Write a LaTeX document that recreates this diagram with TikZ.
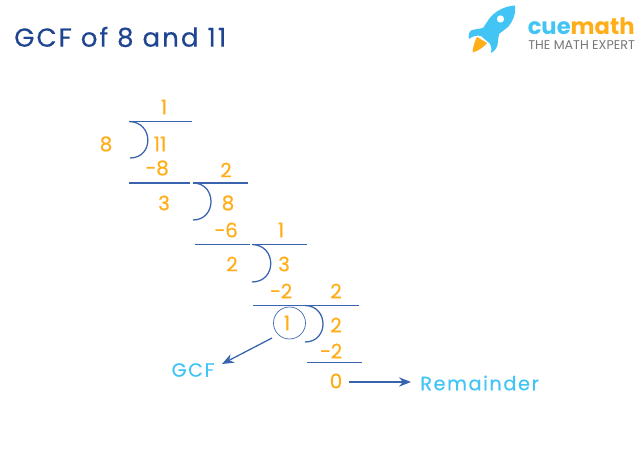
\documentclass[tikz,border=0pt]{standalone}
\usepackage{fontspec}
\setmainfont{Poppins}[FakeBold=0.5]
\newfontfamily\spaced[LetterSpace=8,FakeBold=0.4]{Poppins}
\newfontfamily\plainf{Poppins}
\usetikzlibrary{arrows.meta}
\definecolor{navy}{HTML}{1F4590}
\definecolor{linec}{HTML}{3A63AE}
\definecolor{org}{HTML}{FFAE1A}
\definecolor{sky}{HTML}{42C5F5}
\definecolor{grayt}{HTML}{777777}
\tikzset{
 num/.style={text=org,font=\fontsize{15}{15}\selectfont,inner sep=0pt},
 lab/.style={text=sky,font=\spaced\fontsize{14.5}{15}\selectfont,inner sep=0pt},
 rule/.style={draw=linec,line width=0.95pt},
 bow/.style={draw=linec,line width=0.95pt},
 arr/.style={draw=linec,line width=0.95pt,-{Stealth[length=9pt,width=7pt]}},
}
\begin{document}
\begin{tikzpicture}[x=0.75pt,y=-0.75pt]
\useasboundingbox (0,0) rectangle (643,473);
\node[text=navy,font=\spaced\fontsize{19.5}{20}\selectfont,anchor=west,inner sep=0pt] (title) at (14,37) {GCF of 8 and 11};
% rocket
\fill[sky] (515,5.5) .. controls (505,6) and (495,11) .. (489,19) -- (483,28) -- (472,30) .. controls (469,31) and (468,36) .. (469,39) .. controls (473,36) and (477,35) .. (481,36) -- (488,42) .. controls (491,44) and (492,48) .. (491,53) .. controls (495,51) and (498,47) .. (498,41) -- (499,34) -- (508,27) .. controls (514,20) and (516,12) .. (515,5.5) -- cycle;
\fill[white] (500.5,19) circle (3.6);
\fill[org] (472.5,52.5) .. controls (473,46) and (475,41) .. (477,37) -- (487,43) .. controls (483,48) and (478,51) .. (472.5,52.5) -- cycle;
\node[anchor=west,inner sep=0pt,font=\plainf\fontsize{17}{20}\selectfont\bfseries] (logo) at (527.5,26) {\textcolor{sky}{cue}\textcolor{org}{math}};
\node[anchor=west,inner sep=0pt,text=grayt,font=\plainf\fontsize{9.5}{10}\selectfont] (tag) at (528,45) {THE MATH EXPERT};
% numbers
\node[num] (q1) at (164,107) {1};
\node[num] (d1) at (106,144) {8};
\node[num] (n1) at (160,144) {11};
\node[num] (s1) at (157,168) {−8};
\node[num] (q2) at (226,170) {2};
\node[num] (r1) at (164,203) {3};
\node[num] (n2) at (228,203) {8};
\node[num] (s2) at (226,230) {−6};
\node[num] (q3) at (281,230) {1};
\node[num] (r2) at (232,264) {2};
\node[num] (n3) at (284,264) {3};
\node[num] (s3) at (281,291) {−2};
\node[num] (q4) at (336,291) {2};
\node[num] (r3) at (287,323) {1};
\node[draw=linec,line width=0.5pt,circle,minimum size=24pt,inner sep=0pt] (ring) at (289.5,323) {};
\node[num] (n4) at (336,325) {2};
\node[num] (s4) at (331,351) {−2};
\node[num] (r4) at (336,381) {0};
\node[lab] (gcf) at (193,370) {GCF};
\node[lab,anchor=west] (rem) at (420,383) {Remainder};
% rule ends
\coordinate (a1) at (129,121.5); \coordinate (b1) at (192,121.5);
\coordinate (a2) at (129,183); \coordinate (b2) at (190,183);
\coordinate (a3) at (193,183); \coordinate (b3) at (248,183);
\coordinate (a4) at (195,244.5); \coordinate (b4) at (250,244.5);
\coordinate (a5) at (252,244.5); \coordinate (b5) at (307,244.5);
\coordinate (a6) at (253,305.5); \coordinate (b6) at (359,305.5);
\coordinate (a7) at (307,362.5); \coordinate (b7) at (362,362.5);
\foreach \i in {1,...,7} \draw[rule] (a\i) -- (b\i);
% bows
\coordinate (c1) at (130,158); \coordinate (c2) at (193,220);
\coordinate (c3) at (252,282); \coordinate (c4) at (305,342);
\coordinate (a8) at (305,305.5);
\draw[bow] (a1) .. controls (154,122) and (154,158) .. (c1);
\draw[bow] (a3) .. controls (217,183) and (217,220) .. (c2);
\draw[bow] (a5) .. controls (277,245) and (277,282) .. (c3);
\draw[bow] (a8) .. controls (329,306) and (329,342) .. (c4);
% arrows
\coordinate (g0) at (272,338); \coordinate (g1) at (222,364);
\coordinate (h0) at (349,382); \coordinate (h1) at (411,382);
\draw[arr] (g0) -- (g1);
\draw[arr] (h0) -- (h1);
\end{tikzpicture}
\end{document}
